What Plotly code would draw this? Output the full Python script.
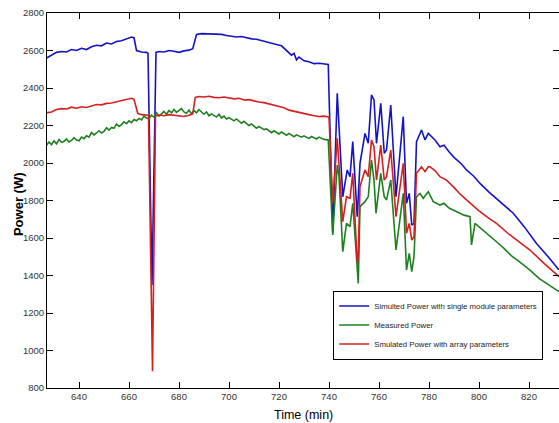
import plotly.graph_objects as go

# ---- data ----
t_blue = [627, 629, 631, 633, 635, 637, 639, 641, 643, 645, 647, 649, 651, 653, 655, 657, 659, 661, 662,
          663, 665, 667, 667.6, 669.2, 670.8, 672, 674, 676, 678, 680, 682, 684, 685.5,
          687, 689, 691, 693, 695, 697, 699, 701, 703, 705, 707, 709, 711, 713, 715, 717, 719, 721, 723,
          725, 726, 727, 728, 730, 732, 734, 736, 738, 739.7,
          741.5, 743.3, 745.5, 747.3, 748.4, 749.5, 751.3, 752.4, 754.4, 755.7, 757, 758, 759, 760.7,
          762.1, 763, 764.7, 766.8, 769.7, 771, 772.1, 773.1, 774, 775, 777, 778.4, 779.7, 782.4, 784.4,
          786, 788, 790, 793, 795, 798, 800.4, 804, 808, 811, 813.7, 818, 823, 828, 832]
p_blue = [2560, 2575, 2590, 2595, 2592, 2605, 2600, 2612, 2605, 2620, 2628, 2625, 2640, 2635, 2648, 2652, 2660, 2672, 2668,
          2600, 2592, 2590, 2585, 1350, 2590, 2595, 2592, 2600, 2596, 2590, 2598, 2602, 2610,
          2685, 2690, 2688, 2690, 2684, 2686, 2680, 2678, 2672, 2675, 2668, 2662, 2660, 2652, 2648, 2640, 2632, 2625, 2600,
          2575, 2585, 2550, 2565, 2545, 2540, 2530, 2532, 2528, 2525,
          1625, 2372, 1820, 1963, 1927, 2114, 1714, 1998, 2158, 2105, 2363, 2336, 2105, 2318,
          2052, 2069, 2309, 1820, 2247, 1785, 1838, 1669, 1678, 2114, 2176, 2123, 2158, 2123, 2087,
          2095, 2060, 2030, 1995, 1963, 1928, 1891, 1845, 1798, 1765, 1732, 1662, 1571, 1495, 1429]

t_green = [627, 628, 629, 630, 631, 632, 633, 634, 635, 636, 637, 638, 639, 640, 641, 642, 643, 644, 645, 646,
           647, 648, 649, 650, 651, 652, 653, 654, 655, 656, 657, 658, 659, 660, 661, 662, 663, 664, 665, 666,
           667, 668, 669, 670, 671, 672, 673, 674, 675, 676, 677, 678, 679, 680, 681, 682, 683, 684, 685, 686,
           687, 688, 689, 690, 691, 692, 693, 694, 695, 696, 697, 698, 699, 700, 702, 703, 705, 706, 708, 709,
           711, 712, 714, 715, 717, 718, 720, 721, 723, 724, 726, 727, 729, 730, 732, 733, 735, 736, 738, 739.7,
           741.5, 743.3, 744, 745.5, 747, 748.4, 749.5, 751.7, 752.4, 754.4, 755.7, 757, 758, 758.8, 760.7,
           762.1, 763, 764.7, 766.8, 769.7, 771, 772.1, 773.1, 774, 775, 776.4, 777.7, 779.7, 781.7, 784.4,
           786, 788, 790, 792, 794, 796.4, 797, 798.4, 800, 802, 804, 807, 810, 813, 816, 820.4, 824, 828, 832]
p_green = [2095, 2112, 2098, 2118, 2102, 2125, 2110, 2115, 2128, 2112, 2120, 2135, 2122, 2118, 2138, 2130, 2145, 2138, 2162, 2150,
           2160, 2172, 2160, 2168, 2188, 2175, 2190, 2185, 2208, 2195, 2205, 2220, 2210, 2225, 2215, 2232, 2225, 2238, 2230, 2250,
           2240, 2236, 2255, 2245, 2268, 2250, 2262, 2275, 2260, 2280, 2268, 2285, 2270, 2278, 2290, 2272, 2265, 2282, 2262, 2280,
           2268, 2285, 2275, 2260, 2272, 2252, 2262, 2255, 2245, 2260, 2240, 2250, 2235, 2242, 2225, 2235, 2212, 2222, 2200, 2208,
           2185, 2195, 2178, 2182, 2162, 2172, 2155, 2165, 2148, 2158, 2140, 2150, 2138, 2145, 2130, 2142, 2128, 2138, 2126, 2123,
           1616, 1989, 1930, 1527, 1678, 1660, 1785, 1358, 1767, 1794, 1820, 2016, 1909, 1732, 1945,
           1820, 1803, 1909, 1536, 1838, 1429, 1518, 1420, 1500, 1820, 1838, 1812, 1847, 1794, 1776,
           1785, 1760, 1748, 1735, 1722, 1714, 1563, 1678, 1660, 1640, 1618, 1580, 1545, 1505, 1475, 1429, 1385, 1350, 1314]

t_red = [627, 629, 631, 633, 635, 637, 639, 641, 643, 645, 647, 649, 651, 653, 655, 657, 659, 661, 662,
         663.5, 665, 667, 667.8, 669.4, 670.6, 672, 674, 676, 678, 680, 682, 684, 685.5,
         686.5, 688, 690, 692, 694, 696, 698, 700, 702, 704, 706, 708, 710, 712, 714, 716, 718, 720, 722,
         724, 726, 728, 730, 732, 734, 736, 738, 740,
         741.5, 743.3, 745.5, 747, 748.4, 749.5, 751.3, 751.7, 752.4, 754.4, 755.7, 757, 758, 759, 760.7,
         762.1, 763, 764.7, 766.8, 769.7, 771, 772.1, 773.1, 774, 775, 777, 778.4, 779.7, 780.4, 782.4, 784.4,
         787, 790, 792, 795, 800, 804, 807, 812, 816, 820.4, 826, 832]
p_red = [2268, 2272, 2285, 2290, 2288, 2298, 2292, 2300, 2296, 2305, 2312, 2310, 2318, 2320, 2326, 2330, 2338, 2345, 2340,
         2265, 2258, 2255, 2255, 890, 2250, 2256, 2252, 2258, 2254, 2250, 2248, 2255, 2262,
         2350, 2355, 2352, 2356, 2350, 2348, 2352, 2345, 2342, 2345, 2336, 2338, 2330, 2325, 2322, 2315, 2310, 2305, 2295,
         2282, 2275, 2268, 2262, 2258, 2252, 2248, 2250, 2245,
         1785, 2132, 1687, 1820, 1812, 1945, 1465, 1500, 1874, 1963, 1927, 2123, 2087, 1909, 2096,
         1909, 1927, 2069, 1714, 1998, 1625, 1678, 1589, 1607, 1945, 1980, 1954, 1980, 1980, 1960, 1927,
         1909, 1870, 1840, 1803, 1745, 1705, 1678, 1620, 1580, 1536, 1465, 1394]

names = ["Simulted Power with single module parameters",
         "Measured Power",
         "Smulated Power with array parameters"]
colors = ["#1414c4", "#1f7f1f", "#d42020"]

x_ticks = [640, 660, 680, 700, 720, 740, 760, 780, 800, 820]
y_ticks = [800, 1000, 1200, 1400, 1600, 1800, 2000, 2200, 2400, 2600, 2800]

fig = go.Figure()
for t, p, n, c in [(t_blue, p_blue, names[0], colors[0]),
                   (t_green, p_green, names[1], colors[1]),
                   (t_red, p_red, names[2], colors[2])]:
    fig.add_trace(go.Scatter(x=t, y=p, mode="lines", name=n,
                             line=dict(color=c, width=1.6)))

FONT = "Liberation Sans, Arial, sans-serif"
tick_font = dict(family=FONT, size=9.5, color="#333")
fig.update_layout(
    width=559, height=423,
    margin=dict(l=47, r=0, t=13, b=35, autoexpand=False),
    paper_bgcolor="white", plot_bgcolor="white",
    showlegend=True,
    legend=dict(x=0.559, y=0.168, xanchor="left", yanchor="middle",
                bgcolor="white", bordercolor="black", borderwidth=1,
                font=dict(family=FONT, size=7.8, color="#222"),
                tracegroupgap=0, itemwidth=30),
    xaxis=dict(range=[627.2, 832], tickvals=x_ticks, ticktext=[str(v) for v in x_ticks],
               showgrid=False, zeroline=False, showline=True, linecolor="black", linewidth=1,
               mirror="ticks", ticks="inside", ticklen=6, tickcolor="black",
               tickfont=tick_font, automargin=False),
    yaxis=dict(range=[800, 2800], tickvals=y_ticks, ticktext=[str(v) for v in y_ticks],
               showgrid=False, zeroline=False, showline=True, linecolor="black", linewidth=1,
               mirror="ticks", ticks="inside", ticklen=6, tickcolor="black",
               tickfont=tick_font, automargin=False),
    annotations=[
        dict(text="Time (min)", xref="paper", yref="paper", x=0.5, y=-0.072,
             xanchor="center", yanchor="middle", showarrow=False,
             font=dict(family=FONT, size=12.5, color="black")),
        dict(text="<b>Power (W)</b>", xref="paper", yref="paper", x=-0.057, y=0.49,
             xanchor="center", yanchor="middle", showarrow=False, textangle=-90,
             font=dict(family=FONT, size=13, color="black")),
    ],
)

# remove the browser's default page margin so the figure fills the window exactly
fig.write_html("out.html",
               config={"displayModeBar": False},
               post_script="document.body.style.margin='0';document.body.style.overflow='hidden';")
